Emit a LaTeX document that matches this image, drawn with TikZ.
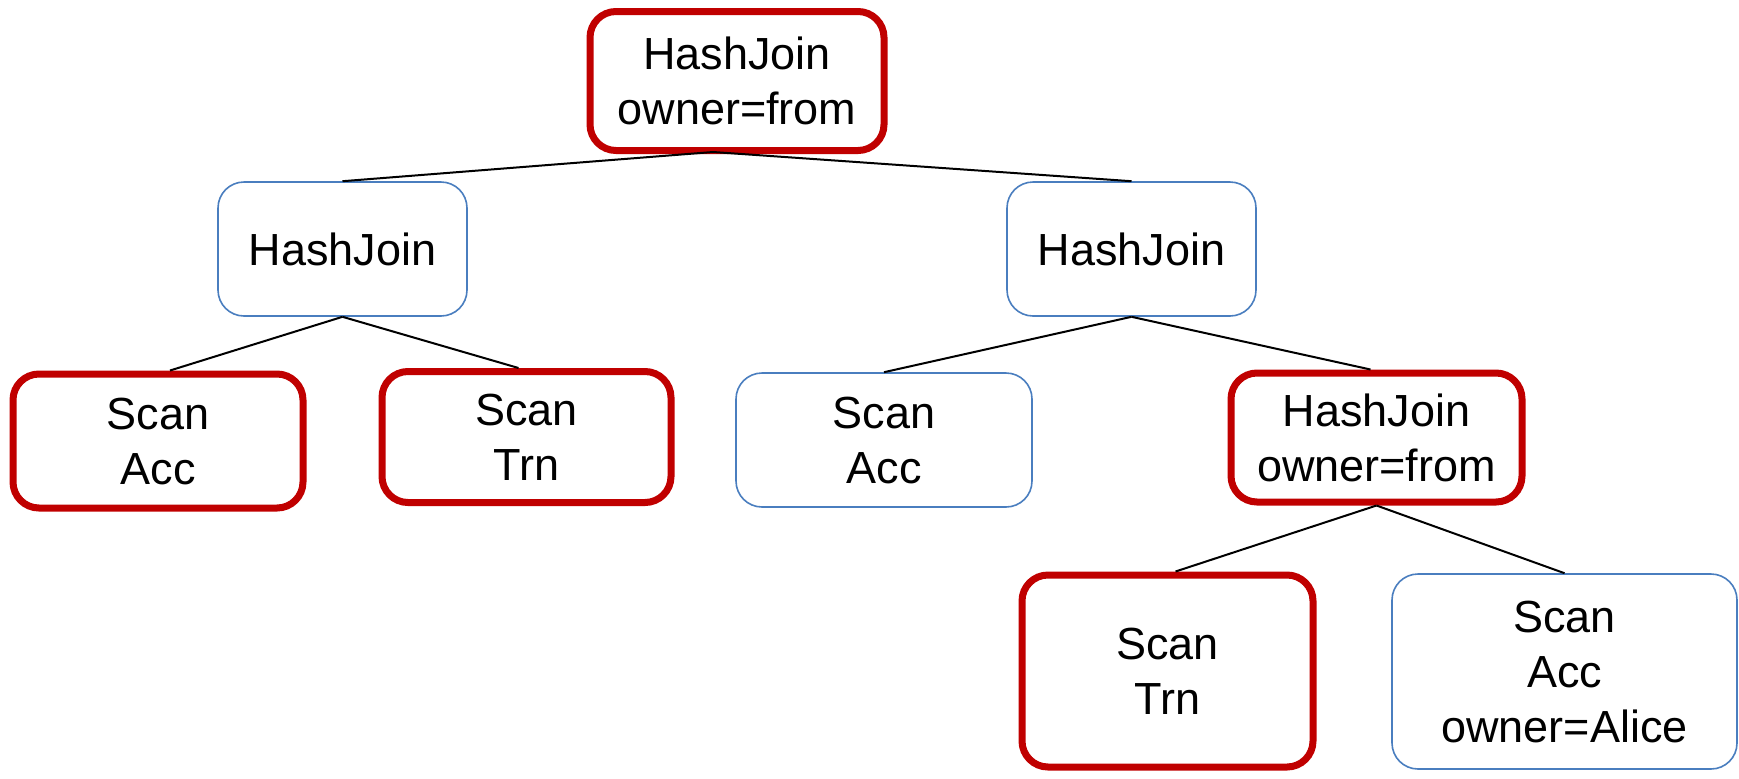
\documentclass[tikz,border=0pt]{standalone}
\usepackage{fontspec}
\setmainfont{Liberation Sans}
\definecolor{hot}{HTML}{C00000}
\definecolor{cool}{HTML}{4A7EBF}
\begin{document}
\begin{tikzpicture}[x=0.5pt,y=-0.5pt,
  op/.style={rectangle, rounded corners=13pt, align=center, inner sep=0pt,
    font=\fontsize{22.5pt}{27.5pt}\selectfont, fill=white},
  hotop/.style={op, draw=hot, line width=3.5pt},
  coolop/.style={op, draw=cool, line width=0.8pt},
  edge/.style={draw=black, line width=1pt}]
\useasboundingbox (0,0) rectangle (1739,778);

% plan operators
\node[hotop, minimum width=147pt, minimum height=69.5pt] (root) at (737,81) {HashJoin\\owner=from};
\node[coolop, minimum width=124.5pt, minimum height=67pt] (hjl) at (342.5,249) {HashJoin};
\node[coolop, minimum width=124.5pt, minimum height=67pt] (hjr) at (1131.5,249) {HashJoin};
\node[hotop, minimum width=145pt, minimum height=67pt] (sacc1) at (158,441) {Scan\\Acc};
\node[hotop, minimum width=144.5pt, minimum height=65.5pt] (strn1) at (526.5,437) {Scan\\Trn};
\node[coolop, minimum width=148pt, minimum height=67pt] (sacc2) at (884,440) {Scan\\Acc};
\node[hotop, minimum width=145.5pt, minimum height=64.5pt] (hjo) at (1376.5,437.5) {HashJoin\\owner=from};
\node[hotop, minimum width=145.5pt, minimum height=96pt] (strn2) at (1167.5,671) {Scan\\Trn};
\node[coolop, minimum width=172.5pt, minimum height=97.5pt] (sacc3) at (1564.5,671.5) {Scan\\Acc\\owner=Alice};

% parent-child edges
\coordinate (rootfoot) at ([xshift=-12pt,yshift=1pt]root.south);
\path[edge] (rootfoot) -- (hjl.north);
\path[edge] (rootfoot) -- (hjr.north);
\path[edge] (hjl.south) -- ([xshift=6pt]sacc1.north);
\path[edge] (hjl.south) -- ([xshift=-4pt]strn1.north);
\path[edge] (hjr.south) -- (sacc2.north);
\path[edge] (hjr.south) -- ([xshift=-3pt]hjo.north);
\path[edge] (hjo.south) -- ([xshift=4pt]strn2.north);
\path[edge] (hjo.south) -- (sacc3.north);
\end{tikzpicture}
\end{document}
